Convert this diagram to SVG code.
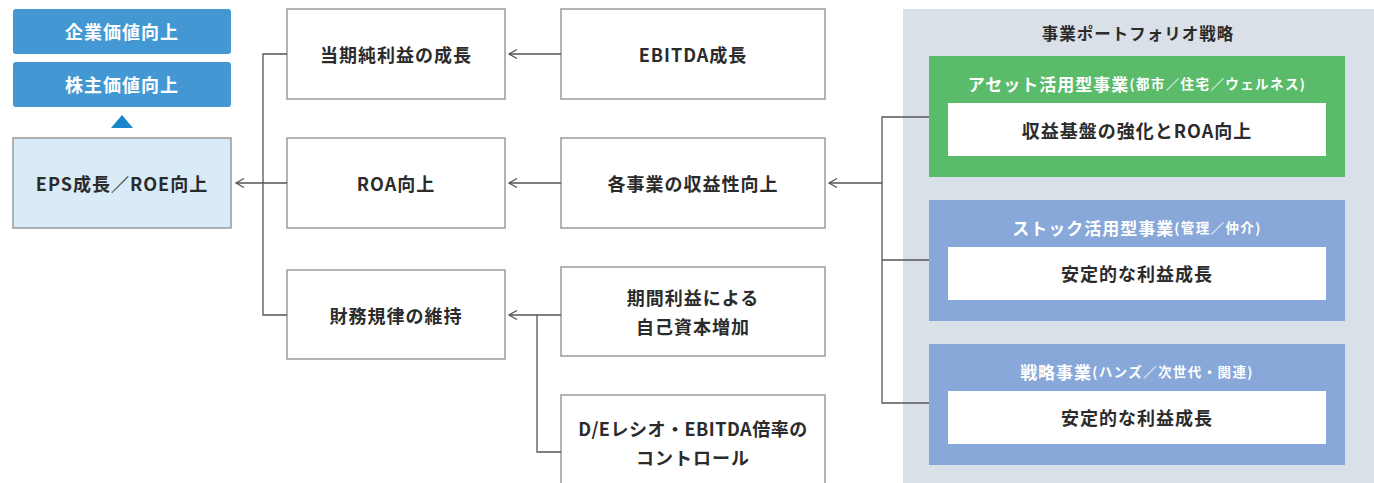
<svg xmlns="http://www.w3.org/2000/svg" width="1374" height="483" viewBox="0 0 1374 483">
<defs>
<style>
text{font-family:"Noto Sans CJK JP","Noto Sans",sans-serif;font-weight:700;text-anchor:middle;dominant-baseline:central;letter-spacing:1px}
.dark{fill:#2b2b2b;font-size:18px}
.white{fill:#fff;font-size:18px}
.ttl{font-size:17px}
.sub{font-size:13.5px;letter-spacing:1.4px}
.box{fill:#fff;stroke:#9a9a9a;stroke-width:1.5}
.blue{fill:#4398d3}
.conn{fill:none;stroke:#555;stroke-width:1.3}
</style>
<marker id="chev" markerUnits="userSpaceOnUse" markerWidth="12" markerHeight="12" refX="9" refY="6" orient="auto" viewBox="0 0 12 12">
<path d="M1,1.5 L9,6 L1,10.5" fill="none" stroke="#555" stroke-width="1.3"/>
</marker>
</defs>
<rect width="1374" height="483" fill="#fff"/>

<g id="panel">
<rect x="903" y="9" width="471" height="474" fill="#dae0e7"/>
<text x="1138" y="33" class="dark" style="font-size:16.5px">事業ポートフォリオ戦略</text>
</g>

<g id="kigyo">
<rect x="13" y="9" width="218" height="45" rx="3" class="blue"/>
<text x="122" y="31" class="white">企業価値向上</text>
</g>
<g id="kabunushi">
<rect x="13" y="62" width="218" height="45" rx="3" class="blue"/>
<text x="122" y="84" class="white">株主価値向上</text>
</g>
<g id="tri">
<polygon points="111,128 133,128 122,115" fill="#1a87c9"/>
</g>
<g id="eps">
<rect x="13" y="138" width="218" height="90" fill="#d8ebf7" stroke="#9a9a9a" stroke-width="1.5"/>
<text x="122" y="183" class="dark">EPS成長／ROE向上</text>
</g>

<g id="toki">
<rect x="287" y="9" width="218" height="90" class="box"/>
<text x="396" y="54" class="dark">当期純利益の成長</text>
</g>
<g id="roa">
<rect x="287" y="138" width="218" height="90" class="box"/>
<text x="396" y="183" class="dark">ROA向上</text>
</g>
<g id="zaimu">
<rect x="287" y="270" width="218" height="89" class="box"/>
<text x="396" y="315" class="dark">財務規律の維持</text>
</g>

<g id="ebitda">
<rect x="561" y="9" width="264" height="90" class="box"/>
<text x="693" y="54" class="dark">EBITDA成長</text>
</g>
<g id="kakujigyo">
<rect x="561" y="138" width="264" height="90" class="box"/>
<text x="693" y="183" class="dark">各事業の収益性向上</text>
</g>
<g id="kikan">
<rect x="561" y="267" width="264" height="89" class="box"/>
<text x="693" y="297" class="dark">期間利益による</text>
<text x="693" y="326" class="dark">自己資本増加</text>
</g>
<g id="de">
<rect x="561" y="395" width="264" height="100" class="box"/>
<text x="693" y="428" class="dark" style="letter-spacing:0.5px">D/Eレシオ・EBITDA倍率の</text>
<text x="693" y="457" class="dark">コントロール</text>
</g>

<g id="asset">
<rect x="929" y="56" width="416" height="121" fill="#5abb6a"/>
<text x="1137" y="83" class="white ttl">アセット活用型事業<tspan class="sub">(都市／住宅／ウェルネス)</tspan></text>
<rect x="948" y="103" width="378" height="53" fill="#fff"/>
<text x="1137" y="130" class="dark">収益基盤の強化とROA向上</text>
</g>
<g id="stock">
<rect x="929" y="200" width="416" height="121" fill="#87a8d8"/>
<text x="1137" y="227" class="white ttl">ストック活用型事業<tspan class="sub">(管理／仲介)</tspan></text>
<rect x="948" y="247" width="378" height="53" fill="#fff"/>
<text x="1137" y="273" class="dark">安定的な利益成長</text>
</g>
<g id="senryaku">
<rect x="929" y="344" width="416" height="121" fill="#87a8d8"/>
<text x="1137" y="371" class="white ttl">戦略事業<tspan class="sub">(ハンズ／次世代・関連)</tspan></text>
<rect x="948" y="391" width="378" height="53" fill="#fff"/>
<text x="1137" y="417" class="dark">安定的な利益成長</text>
</g>

<g id="connectors">
<path class="conn" d="M287,54 H263 V315 H287"/>
<path class="conn" d="M287,183 H236" marker-end="url(#chev)"/>
<path class="conn" d="M561,54 H509" marker-end="url(#chev)"/>
<path class="conn" d="M561,183 H509" marker-end="url(#chev)"/>
<path class="conn" d="M561,315 H509" marker-end="url(#chev)"/>
<path class="conn" d="M537,315 V452 H561"/>
<path class="conn" d="M929,117 H882 V403 H929"/>
<path class="conn" d="M882,260 H929"/>
<path class="conn" d="M882,183 H829" marker-end="url(#chev)"/>
</g>
</svg>
